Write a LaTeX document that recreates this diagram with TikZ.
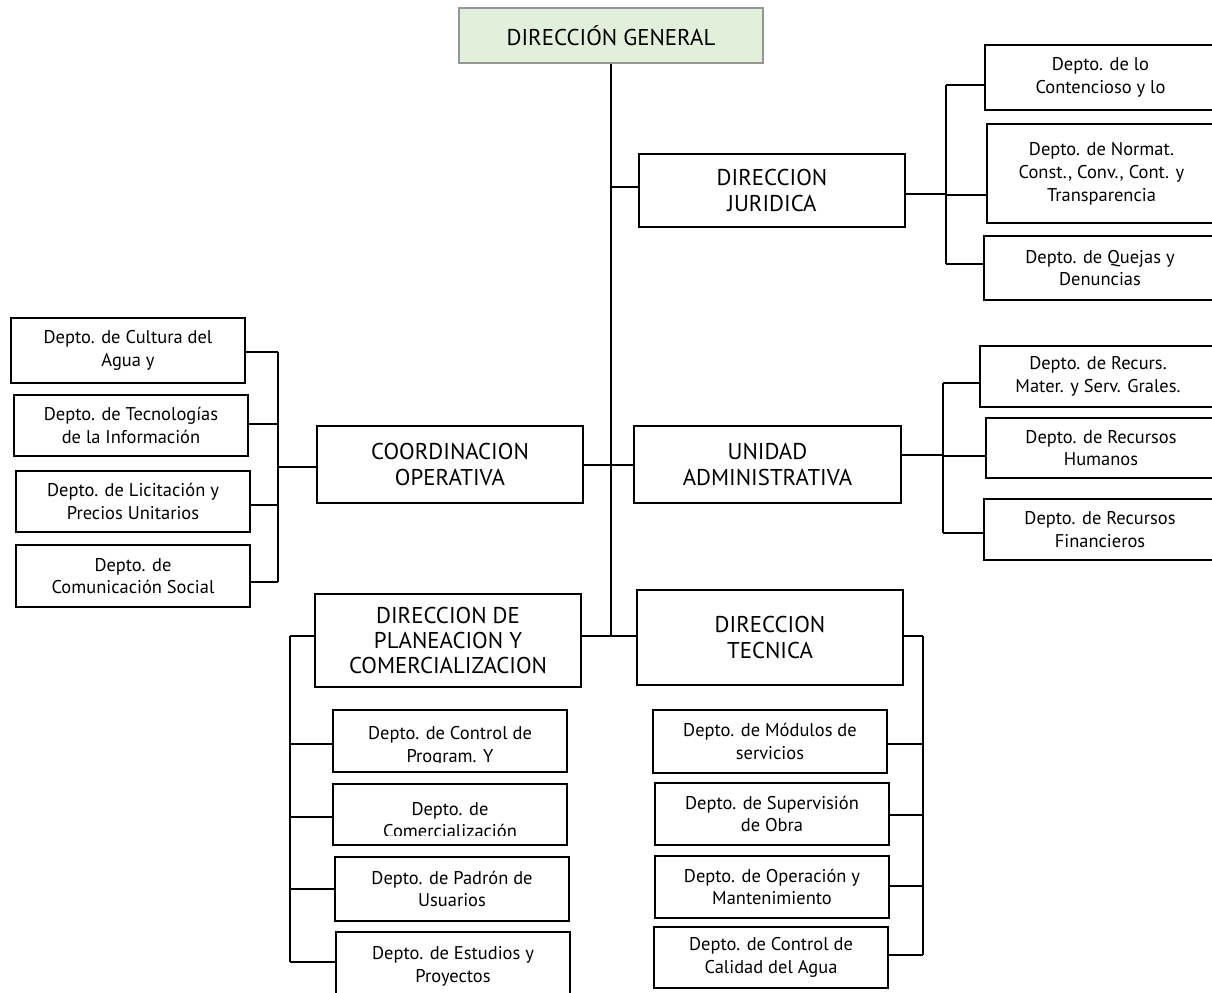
\documentclass[tikz,border=0pt]{standalone}
\usepackage{fontspec}
\setmainfont{PT Sans}
\usetikzlibrary{positioning,calc}
\definecolor{headgreen}{RGB}{226,239,218}
\definecolor{headgray}{RGB}{150,150,150}
\tikzset{
    head/.style={rectangle, draw=headgray, fill=headgreen, line width=1.4pt, font=\fontsize{13}{15}\selectfont},
    unit/.style={rectangle, draw=black, line width=1.4pt, align=center, font=\fontsize{13}{14.5}\selectfont},
    dept/.style={rectangle, draw=black, line width=1.4pt, align=center, font=\fontsize{10.5}{13}\selectfont},
    depttext/.style={align=center, font=\fontsize{10.5}{13}\selectfont},
    sz/.style 2 args={minimum width=#1*0.2mm, minimum height=#2*0.2mm},
    conn/.style={line width=1.1pt, black},
}

\begin{document}
\begin{tikzpicture}[x=0.2mm, y=-0.2mm]
    \useasboundingbox (0,0) rectangle (1212,993);
    \clip (0,0) rectangle (1212,993);

    % top and first level
    \node[head, sz={304}{55}] (dg) at (611,35.5) {DIRECCIÓN GENERAL};
    \node[unit, sz={266}{73}] (dj) at (772,190.5) {DIRECCION\\JURIDICA};
    \node[unit, sz={266}{77}] (co) at (450,464.5) {COORDINACION\\OPERATIVA};
    \node[unit, sz={267}{77}] (ua) at (767.5,464.5) {UNIDAD\\ADMINISTRATIVA};
    \node[unit, sz={266}{93}] (dpc) at (448,640.5) {DIRECCION DE\\PLANEACION Y\\COMERCIALIZACION};
    \node[unit, sz={266}{95}] (dt) at (770,637.5) {DIRECCION\\TECNICA};

    % juridica
    \node[dept, sz={231}{65}] (c1) at (1100.5,77.5) {Depto. de lo\\Contencioso y lo};
    \node[dept, sz={229}{99}] (c2) at (1101.5,173.5) {Depto. de Normat.\\Const., Conv., Cont. y\\Transparencia};
    \node[dept, sz={232}{64}] (c3) at (1100,268) {Depto. de Quejas y\\Denuncias};

    % administrativa
    \node[dept, sz={236}{61}] (r1) at (1098,376.5) {Depto. de Recurs.\\Mater. y Serv. Grales.};
    \node[dept, sz={230}{60}] (r2) at (1101,448) {Depto. de Recursos\\Humanos};
    \node[dept, sz={232}{61}] (r3) at (1100,529.5) {Depto. de Recursos\\Financieros};

    % operativa
    \node[dept, sz={234}{65}] (l1) at (128,350.5) {Depto. de Cultura del\\Agua y};
    \node[dept, sz={234}{61}] (l2) at (131,425.5) {Depto. de Tecnologías\\de la Información};
    \node[dept, sz={234}{61}] (l3) at (133,501.5) {Depto. de Licitación y\\Precios Unitarios};
    \node[dept, sz={234}{62}] (l4) at (133,576) {Depto. de\\Comunicación Social};

    % planeacion
    \node[dept, sz={234}{62}] (p1) at (450,741) {};
    \node[dept, sz={234}{61}] (p2) at (450,814.5) {};
    \node[dept, sz={234}{64}] (p3) at (452,889) {Depto. de Padrón de\\Usuarios};
    \node[dept, sz={234}{68}] (p4) at (453,966) {Depto. de Estudios y\\Proyectos};
    \begin{scope}
        \clip (333,710) rectangle (567,762);
        \node[depttext] (p1t) at (450,746) {Depto. de Control de\\Program. Y};
    \end{scope}
    \begin{scope}
        \clip (333,784) rectangle (567,835);
        \node[depttext] (p2t) at (450,820) {Depto. de\\Comercialización};
    \end{scope}

    % tecnica
    \node[dept, sz={234}{63}] (t1) at (770,741.5) {Depto. de Módulos de\\servicios};
    \node[dept, sz={234}{62}] (t2) at (772,814) {Depto. de Supervisión\\de Obra};
    \node[dept, sz={234}{62}] (t3) at (772,887) {Depto. de Operación y\\Mantenimiento};
    \node[dept, sz={234}{61}] (t4) at (771,957.5) {Depto. de Control de\\Calidad del Agua};

    % buses
    \coordinate (busJ) at (946,0);
    \coordinate (busA) at (943,0);
    \coordinate (busO) at (278,0);
    \coordinate (busP) at (290,0);
    \coordinate (busT) at (923,0);

    % trunk
    \draw[conn] (dg.south) -- (dg.south |- 0,636);
    \draw[conn] (dg.south |- 0,187) -- (dj.west |- 0,187);
    \draw[conn] (co.east |- 0,465) -- (ua.west |- 0,465);
    \draw[conn] (dpc.east |- 0,636) -- (dt.west |- 0,636);

    \draw[conn] (dj.east |- 0,194) -- (busJ |- 0,194);
    \draw[conn] (busJ |- 0,85) -- (busJ |- 0,264);
    \foreach \n/\y in {c1/85,c2/195,c3/264}
        \draw[conn] (busJ |- 0,\y) -- (\n.west |- 0,\y);

    \draw[conn] (ua.east |- 0,455) -- (busA |- 0,455);
    \draw[conn] (busA |- 0,383) -- (busA |- 0,533);
    \foreach \n/\y in {r1/383,r2/456,r3/533}
        \draw[conn] (busA |- 0,\y) -- (\n.west |- 0,\y);

    \draw[conn] (co.west |- 0,467) -- (busO |- 0,467);
    \draw[conn] (busO |- 0,352) -- (busO |- 0,582);
    \foreach \n/\y in {l1/352,l2/424,l3/505,l4/582}
        \draw[conn] (\n.east |- 0,\y) -- (busO |- 0,\y);

    \draw[conn] (dpc.west |- 0,636) -- (busP |- 0,636);
    \draw[conn] (busP |- 0,636) -- (busP |- 0,962);
    \foreach \n/\y in {p1/744,p2/817,p3/889,p4/962}
        \draw[conn] (busP |- 0,\y) -- (\n.west |- 0,\y);

    \draw[conn] (dt.east |- 0,636) -- (busT |- 0,636);
    \draw[conn] (busT |- 0,636) -- (busT |- 0,955);
    \foreach \n/\y in {t1/744,t2/815,t3/886,t4/955}
        \draw[conn] (\n.east |- 0,\y) -- (busT |- 0,\y);
\end{tikzpicture}
\end{document}
